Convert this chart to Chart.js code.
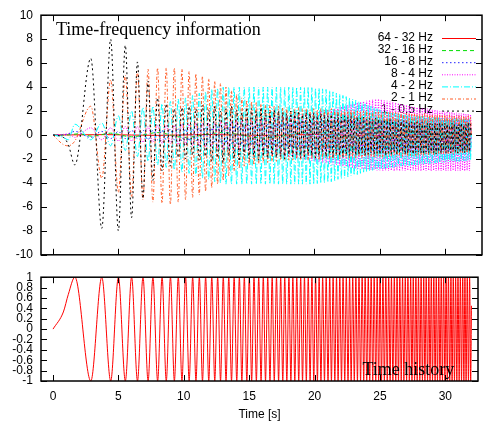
<!DOCTYPE html>
<html>
<head>
<meta charset="utf-8">
<script src="https://cdn.jsdelivr.net/npm/chart.js@4.4.1/dist/chart.umd.min.js"></script>
<style>
  html, body { margin: 0; padding: 0; background: #fff; }
  #wrap { position: relative; width: 484px; height: 423px; }
  .panel { position: absolute; left: 0; }
  #top { top: 0; }
  #bottom { top: 262px; }
</style>
</head>
<body>
<div id="wrap">
  <div class="panel" id="top"><canvas id="freqChart" width="484" height="270"></canvas></div>
  <div class="panel" id="bottom"><canvas id="timeChart" width="484" height="161"></canvas></div>
</div>
<script>
// ---- data ----
const xTicks = [0, 5, 10, 15, 20, 25, 30];
const bandLabels = ["64 - 32 Hz", "32 - 16 Hz", "16 - 8 Hz", "8 - 4 Hz", "4 - 2 Hz", "2 - 1 Hz", "1 - 0.5 Hz"];

// the two highest bands stay near zero
const hz64_32Times = [0, 4, 8, 12, 16, 20, 24, 28, 32];
const hz64_32 = [0, 0.03, -0.03, 0.04, -0.04, 0.05, -0.05, 0.05, 0];
const hz32_16Times = [0, 1, 2, 3, 4.4, 6, 8, 10, 13, 16, 20, 24, 28, 32];
const hz32_16 = [0, 0, 0.1, -0.1, 0.15, -0.15, 0.2, -0.2, 0.2, -0.25, 0.25, -0.3, 0.3, 0];

// time history: start of the first rise, then every crest and trough.
// the other bands are read at these same instants
const chirpTimes = [0, 0.79, 1.17,
  1.67, 2.89, 3.73, 4.41, 5.00, 5.53, 6.01, 6.46, 6.88, 7.27,
  7.64, 8.00, 8.34, 8.66, 8.98, 9.28, 9.58, 9.86, 10.14, 10.41,
  10.68, 10.93, 11.19, 11.43, 11.67, 11.91, 12.14, 12.37, 12.59, 12.81,
  13.02, 13.23, 13.44, 13.65, 13.85, 14.05, 14.25, 14.44, 14.63, 14.82,
  15.01, 15.19, 15.37, 15.55, 15.73, 15.91, 16.08, 16.25, 16.42, 16.59,
  16.76, 16.92, 17.09, 17.25, 17.41, 17.57, 17.72, 17.88, 18.04, 18.19,
  18.34, 18.49, 18.64, 18.79, 18.94, 19.08, 19.23, 19.37, 19.52, 19.66,
  19.80, 19.94, 20.08, 20.22, 20.35, 20.49, 20.62, 20.76, 20.89, 21.03,
  21.16, 21.29, 21.42, 21.55, 21.68, 21.80, 21.93, 22.06, 22.18, 22.31,
  22.43, 22.56, 22.68, 22.80, 22.92, 23.04, 23.16, 23.28, 23.40, 23.52,
  23.64, 23.76, 23.87, 23.99, 24.11, 24.22, 24.33, 24.45, 24.56, 24.68,
  24.79, 24.90, 25.01, 25.12, 25.23, 25.34, 25.45, 25.56, 25.67, 25.78,
  25.88, 25.99, 26.10, 26.21, 26.31, 26.42, 26.52, 26.63, 26.73, 26.83,
  26.94, 27.04, 27.14, 27.25, 27.35, 27.45, 27.55, 27.65, 27.75, 27.85,
  27.95, 28.05, 28.15, 28.25, 28.35, 28.44, 28.54, 28.64, 28.74, 28.83,
  28.93, 29.02, 29.12, 29.22, 29.31, 29.40, 29.50, 29.59, 29.69, 29.78,
  29.87, 29.97, 30.06, 30.15, 30.24, 30.34, 30.43, 30.52, 30.61, 30.70,
  30.79, 30.88, 30.97, 31.06, 31.15, 31.24, 31.33, 31.42, 31.50, 31.59,
  31.68, 31.77, 31.86, 31.94, 32.0];
const chirpValues = [0, 0.33, 0.67,
  1, -1, 1, -1, 1, -1, 1, -1, 1, -1,
  1, -1, 1, -1, 1, -1, 1, -1, 1, -1,
  1, -1, 1, -1, 1, -1, 1, -1, 1, -1,
  1, -1, 1, -1, 1, -1, 1, -1, 1, -1,
  1, -1, 1, -1, 1, -1, 1, -1, 1, -1,
  1, -1, 1, -1, 1, -1, 1, -1, 1, -1,
  1, -1, 1, -1, 1, -1, 1, -1, 1, -1,
  1, -1, 1, -1, 1, -1, 1, -1, 1, -1,
  1, -1, 1, -1, 1, -1, 1, -1, 1, -1,
  1, -1, 1, -1, 1, -1, 1, -1, 1, -1,
  1, -1, 1, -1, 1, -1, 1, -1, 1, -1,
  1, -1, 1, -1, 1, -1, 1, -1, 1, -1,
  1, -1, 1, -1, 1, -1, 1, -1, 1, -1,
  1, -1, 1, -1, 1, -1, 1, -1, 1, -1,
  1, -1, 1, -1, 1, -1, 1, -1, 1, -1,
  1, -1, 1, -1, 1, -1, 1, -1, 1, -1,
  1, -1, 1, -1, 1, -1, 1, -1, 1, -1,
  1, -1, 1, -1, 1, -1, 1, -1, 1, -1,
  1, -1, 1, -1, 0.45];

const hz16_8 = [0, 0, 0.1,
  0.3, -0.2, 0.3, -0.3, 0.3, -0.3, 0.4, -0.3, 0.4, -0.4,
  0.4, -0.4, 0.4, -0.4, 0.5, -0.4, 0.5, -0.5, 0.5, -0.5,
  0.5, -0.5, 0.6, -0.5, 0.6, -0.6, 0.6, -0.6, 0.7, -0.6,
  0.7, -0.7, 0.7, -0.7, 0.8, -0.7, 0.8, -0.8, 0.8, -0.8,
  0.8, -0.8, 0.8, -0.85, 0.85, -0.85, 0.9, -0.9, 0.9, -0.9,
  0.9, -0.95, 0.95, -0.95, 0.95, -1.0, 1.0, -1.0, 1.0, -1.0,
  1.0, -1.05, 1.05, -1.05, 1.05, -1.1, 1.1, -1.1, 1.1, -1.1,
  1.1, -1.15, 1.15, -1.15, 1.15, -1.2, 1.2, -1.2, 1.2, -1.2,
  1.2, -1.25, 1.2, -1.25, 1.25, -1.25, 1.2, -1.3, 1.25, -1.3,
  1.25, -1.3, 1.3, -1.3, 1.25, -1.35, 1.3, -1.3, 1.25, -1.35,
  1.3, -1.35, 1.3, -1.3, 1.25, -1.35, 1.3, -1.35, 1.3, -1.3,
  1.25, -1.35, 1.3, -1.35, 1.3, -1.3, 1.25, -1.35, 1.3, -1.35,
  1.3, -1.3, 1.25, -1.35, 1.3, -1.35, 1.3, -1.3, 1.25, -1.35,
  1.3, -1.35, 1.3, -1.3, 1.25, -1.35, 1.3, -1.35, 1.3, -1.3,
  1.25, -1.35, 1.3, -1.35, 1.3, -1.3, 1.25, -1.35, 1.3, -1.35,
  1.3, -1.3, 1.25, -1.35, 1.3, -1.35, 1.3, -1.3, 1.25, -1.35,
  1.3, -1.35, 1.3, -1.3, 1.25, -1.35, 1.3, -1.35, 1.3, -1.3,
  1.25, -1.35, 1.3, -1.35, 1.3, -1.3, 1.25, -1.35, 1.3, -1.35,
  1.3, -1.3, 1.25, -1.35, 0];

const hz8_4 = [0, 0.05, 0.1,
  -0.2, 0.6, -0.4, 0.6, -0.5, 0.7, -0.5, 0.7, -0.6, 0.7,
  -0.6, 0.8, -0.7, 0.8, -0.7, 0.8, -0.8, 0.9, -0.8, 0.9,
  -0.9, 1.0, -0.9, 1.0, -1.0, 1.0, -1.0, 1.1, -1.1, 1.1,
  -1.2, 1.1, -1.2, 1.2, -1.3, 1.2, -1.3, 1.3, -1.4, 1.3,
  -1.4, 1.35, -1.45, 1.4, -1.5, 1.4, -1.55, 1.45, -1.6, 1.5,
  -1.65, 1.5, -1.7, 1.55, -1.75, 1.6, -1.8, 1.6, -1.85, 1.65,
  -1.9, 1.7, -1.95, 1.7, -2.0, 1.75, -2.05, 1.8, -2.1, 1.85,
  -2.15, 1.9, -2.2, 1.95, -2.25, 2.0, -2.3, 2.05, -2.35, 2.1,
  -2.4, 2.15, -2.45, 2.2, -2.5, 2.3, -2.55, 2.35, -2.6, 2.4,
  -2.65, 2.5, -2.7, 2.55, -2.75, 2.6, -2.8, 2.7, -2.8, 2.75,
  -2.85, 2.8, -2.85, 2.85, -2.9, 2.9, -2.9, 2.95, -2.9, 3.0,
  -2.95, 3.0, -2.95, 2.95, -3.0, 2.9, -2.95, 2.85, -3.0, 2.8,
  -2.95, 2.75, -3.0, 2.7, -2.95, 2.65, -3.0, 2.6, -2.95, 2.55,
  -3.0, 2.5, -2.95, 2.45, -3.0, 2.4, -2.95, 2.35, -3.0, 2.3,
  -2.95, 2.3, -3.0, 2.25, -2.95, 2.2, -3.0, 2.2, -2.95, 2.15,
  -3.0, 2.1, -2.95, 2.1, -3.0, 2.05, -2.95, 2.0, -3.0, 2.0,
  -2.95, 1.95, -3.0, 1.95, -2.95, 1.9, -3.0, 1.9, -2.95, 1.85,
  -3.0, 1.85, -2.95, 1.8, -3.0, 1.8, -2.95, 1.8, -3.0, 1.75,
  -2.95, 1.75, -3.0, 1.7, 0];

const hz4_2 = [0, -0.2, -0.4,
  0.9, -0.4, 1.0, -0.9, 1.6, -1.3, 2.0, -1.8, 2.3, -2.2,
  2.4, -2.5, 2.6, -2.7, 2.8, -2.9, 3.0, -3.1, 3.1, -3.2,
  3.3, -3.4, 3.5, -3.6, 3.6, -3.7, 3.8, -3.9, 3.9, -4.0,
  4.0, -4.1, 4.0, -4.1, 4.0, -4.1, 4.0, -4.1, 4.0, -4.1,
  4.0, -4.1, 4.0, -4.1, 4.0, -4.1, 4.0, -4.1, 4.0, -4.1,
  4.0, -4.1, 4.0, -4.1, 4.0, -4.1, 4.0, -4.1, 4.0, -4.1,
  4.0, -4.1, 4.0, -4.1, 4.0, -4.1, 4.0, -4.1, 4.0, -4.1,
  3.95, -4.1, 3.9, -4.05, 3.9, -4.0, 3.85, -4.0, 3.8, -3.95,
  3.7, -3.9, 3.6, -3.8, 3.5, -3.7, 3.4, -3.65, 3.3, -3.6,
  3.2, -3.5, 3.1, -3.4, 3.0, -3.35, 2.9, -3.3, 2.8, -3.2,
  2.7, -3.1, 2.6, -3.05, 2.5, -3.0, 2.4, -2.95, 2.3, -2.9,
  2.2, -2.9, 2.1, -2.85, 2.0, -2.8, 1.95, -2.75, 1.9, -2.7,
  1.85, -2.7, 1.8, -2.65, 1.8, -2.6, 1.75, -2.6, 1.7, -2.6,
  1.7, -2.55, 1.65, -2.55, 1.65, -2.5, 1.6, -2.5, 1.6, -2.5,
  1.6, -2.45, 1.55, -2.45, 1.55, -2.4, 1.5, -2.4, 1.5, -2.4,
  1.5, -2.35, 1.5, -2.35, 1.45, -2.3, 1.45, -2.3, 1.45, -2.3,
  1.4, -2.3, 1.4, -2.25, 1.4, -2.25, 1.4, -2.2, 1.4, -2.2,
  1.4, -2.2, 1.35, -2.2, 1.35, -2.15, 1.35, -2.15, 1.35, -2.15,
  1.3, -2.1, 1.3, -2.1, 0];

const hz2_1 = [0, -0.8, -0.9,
  -0.5, 2.4, -3.6, 4.6, -4.8, 5.0, -5.2, 5.3, -5.4, 5.5,
  -5.6, 5.6, -5.7, 5.6, -5.8, 5.6, -5.6, 5.5, -5.4, 5.3,
  -5.2, 5.1, -5.0, 4.9, -4.7, 4.7, -4.4, 4.5, -4.1, 4.3,
  -3.8, 4.0, -3.4, 3.7, -3.0, 3.4, -2.8, 3.1, -2.6, 2.9,
  -2.5, 2.8, -2.5, 2.7, -2.4, 2.6, -2.3, 2.5, -2.3, 2.5,
  -2.2, 2.4, -2.2, 2.4, -2.1, 2.3, -2.1, 2.3, -2.1, 2.2,
  -2.1, 2.2, -2.0, 2.3, -2.1, 2.2, -2.0, 2.2, -2.1, 2.1,
  -2.0, 2.2, -2.0, 2.1, -2.1, 2.2, -2.0, 2.1, -1.9, 2.1,
  -2.0, 2.2, -2.0, 2.1, -1.9, 2.1, -2.0, 2.0, -1.9, 2.1,
  -1.9, 2.0, -2.0, 2.1, -1.9, 2.0, -1.9, 2.0, -1.8, 2.0,
  -1.9, 2.0, -1.8, 2.1, -1.9, 1.9, -1.8, 2.0, -1.9, 1.9,
  -1.8, 2.0, -1.8, 1.9, -1.9, 1.9, -1.8, 1.9, -1.8, 1.9,
  -1.8, 1.9, -1.7, 1.9, -1.8, 1.8, -1.7, 1.9, -1.8, 1.8,
  -1.7, 1.8, -1.8, 1.8, -1.7, 1.8, -1.7, 1.8, -1.7, 1.7,
  -1.7, 1.8, -1.7, 1.7, -1.7, 1.8, -1.6, 1.7, -1.7, 1.7,
  -1.6, 1.7, -1.7, 1.7, -1.6, 1.7, -1.6, 1.7, -1.6, 1.6,
  -1.6, 1.7, -1.6, 1.6, -1.6, 1.7, -1.5, 1.6, -1.6, 1.6,
  -1.5, 1.6, -1.6, 1.6, -1.5, 1.6, -1.5, 1.6, -1.5, 1.5,
  -1.5, 1.6, -1.5, 1.5, 0];

const hz1_05 = [0, -0.2, -0.8,
  -2.5, 6.4, -7.8, 8.0, -8.0, 7.5, -6.9, 6.1, -5.3, 4.5,
  -3.8, 3.1, -3.0, 2.6, -2.6, 2.2, -1.9, 2.3, -2.0, 2.4,
  -1.7, 2.2, -2.1, 2.5, -1.8, 2.1, -2.2, 2.4, -1.9, 2.0,
  -2.3, 2.2, -1.8, 2.4, -2.0, 2.1, -2.2, 1.9, -1.7, 2.3,
  -2.0, 2.2, -1.9, 2.0, -2.1, 2.3, -1.8, 2.1, -2.0, 1.9,
  -1.7, 2.1, -1.9, 2.0, -1.8, 1.9, -2.0, 1.8, -1.6, 2.0,
  -1.8, 1.9, -1.7, 2.0, -1.9, 1.7, -1.8, 1.9, -1.6, 1.8,
  -1.7, 1.8, -1.9, 1.6, -1.7, 1.8, -1.5, 1.7, -1.8, 1.6,
  -1.6, 1.7, -1.8, 1.5, -1.6, 1.7, -1.7, 1.5, -1.8, 1.6,
  -1.6, 1.5, -1.7, 1.6, -1.5, 1.4, -1.7, 1.5, -1.6, 1.4,
  -1.5, 1.5, -1.7, 1.3, -1.6, 1.4, -1.5, 1.3, -1.6, 1.4,
  -1.5, 1.3, -1.6, 1.2, -1.5, 1.3, -1.7, 1.2, -1.5, 1.3,
  -1.6, 1.2, -1.4, 1.1, -1.6, 1.2, -1.5, 1.1, -1.4, 1.2,
  -1.6, 1.1, -1.5, 1.0, -1.4, 1.1, -1.6, 1.0, -1.5, 1.1,
  -1.4, 1.0, -1.5, 1.1, -1.6, 0.9, -1.4, 1.0, -1.5, 1.0,
  -1.4, 0.9, -1.5, 1.0, -1.6, 0.9, -1.4, 1.0, -1.5, 0.9,
  -1.3, 1.0, -1.5, 0.9, -1.4, 0.8, -1.5, 1.0, -1.3, 0.9,
  -1.4, 0.8, -1.5, 0.9, -1.3, 1.0, -1.4, 0.8, -1.5, 0.9,
  -1.3, 1.0, -1.4, 0.9, 0];

// ---- styles ----
const bandColors = ["#ff0000", "#00dd00", "#2222ff", "#ff00ff", "#00ffff", "#ff5c26", "#000000"];
const bandDashes = [[], [4, 3], [1.5, 2.5], [1, 1.5], [6, 2, 1, 2], [3, 2, 1, 2], [2, 3]];

const toPoints = (xs, ys) => xs.map((x, i) => ({ x: x, y: ys[i] }));
const bandSeries = [
  toPoints(hz64_32Times, hz64_32),
  toPoints(hz32_16Times, hz32_16),
  toPoints(chirpTimes, hz16_8),
  toPoints(chirpTimes, hz8_4),
  toPoints(chirpTimes, hz4_2),
  toPoints(chirpTimes, hz2_1),
  toPoints(chirpTimes, hz1_05)
];

Chart.defaults.font.family = "'Liberation Sans', Arial, sans-serif";
Chart.defaults.font.size = 12;
Chart.defaults.color = "#000";

// frame with inward tick marks on all four sides, gnuplot style
const frameTicks = {
  id: "frameTicks",
  afterDraw(chart) {
    const { ctx, chartArea: a, scales } = chart;
    ctx.save();
    ctx.strokeStyle = "#000";
    ctx.lineWidth = 1;
    ctx.beginPath();
    xTicks.forEach(v => {
      const px = Math.round(scales.x.getPixelForValue(v)) + 0.5;
      ctx.moveTo(px, a.bottom); ctx.lineTo(px, a.bottom - 6);
      ctx.moveTo(px, a.top); ctx.lineTo(px, a.top + 6);
    });
    scales.y.ticks.forEach(t => {
      const py = Math.round(scales.y.getPixelForValue(t.value)) + 0.5;
      ctx.moveTo(a.left, py); ctx.lineTo(a.left + 6, py);
      ctx.moveTo(a.right, py); ctx.lineTo(a.right - 6, py);
    });
    ctx.stroke();
    ctx.lineWidth = 1.5;
    ctx.strokeRect(a.left, a.top, a.right - a.left, a.bottom - a.top);
    ctx.restore();
  }
};

// key in the top right corner: text right aligned, sample line after it
const bandLegend = {
  id: "bandLegend",
  beforeDatasetsDraw(chart) {
    const ctx = chart.ctx;
    ctx.save();
    ctx.font = "12px 'Liberation Sans', Arial, sans-serif";
    ctx.textAlign = "right";
    ctx.textBaseline = "middle";
    chart.data.datasets.forEach((ds, i) => {
      const y = 37.5 + i * 12.1;
      ctx.fillStyle = "#000";
      ctx.fillText(ds.label, 433, y);
      ctx.strokeStyle = ds.borderColor;
      ctx.lineWidth = 1;
      ctx.setLineDash(ds.borderDash);
      ctx.beginPath();
      ctx.moveTo(442, y + 1);
      ctx.lineTo(476, y + 1);
      ctx.stroke();
    });
    ctx.restore();
  }
};

const panelText = {
  id: "panelText",
  afterDatasetsDraw(chart, args, opts) {
    const ctx = chart.ctx, a = chart.chartArea;
    ctx.save();
    ctx.font = "18px 'Liberation Serif', 'Times New Roman', serif";
    ctx.fillStyle = "#000";
    ctx.textBaseline = "alphabetic";
    ctx.fillText(opts.text, a.left + opts.dx, a.top + opts.dy);
    ctx.restore();
  }
};

const yAxisBase = {
  grid: { display: false, drawTicks: false },
  border: { display: false },
  afterFit: s => { s.width = 41; }
};

new Chart(document.getElementById("freqChart"), {
  type: "line",
  data: {
    datasets: bandSeries.map((pts, i) => ({
      label: bandLabels[i],
      data: pts,
      borderColor: bandColors[i],
      borderDash: bandDashes[i],
      borderWidth: 1,
      order: 7 - i,
      fill: false
    }))
  },
  options: {
    responsive: false,
    animation: false,
    events: [],
    parsing: false,
    layout: { padding: { left: 0, top: 14, right: 2, bottom: 11 } },
    elements: { point: { radius: 0 }, line: { cubicInterpolationMode: "monotone" } },
    scales: {
      x: { type: "linear", display: false, min: -0.92, max: 32.82 },
      y: Object.assign({
        min: -10, max: 10,
        ticks: { stepSize: 2, padding: 8, autoSkip: false }
      }, yAxisBase)
    },
    plugins: {
      legend: { display: false },
      tooltip: { enabled: false },
      panelText: { text: "Time-frequency information", dx: 15, dy: 20 }
    }
  },
  plugins: [frameTicks, bandLegend, panelText]
});

new Chart(document.getElementById("timeChart"), {
  type: "line",
  data: {
    datasets: [{
      label: "Time history",
      data: toPoints(chirpTimes, chirpValues),
      borderColor: "#ff0000",
      borderWidth: 1,
      fill: false
    }]
  },
  options: {
    responsive: false,
    animation: false,
    events: [],
    parsing: false,
    layout: { padding: { left: 0, top: 12, right: 6, bottom: 0 } },
    elements: { point: { radius: 0 }, line: { cubicInterpolationMode: "monotone" } },
    scales: {
      x: {
        type: "linear", min: -0.92, max: 32.5,
        afterBuildTicks: s => { s.ticks = xTicks.map(v => ({ value: v })); },
        ticks: { padding: 8, autoSkip: false, maxRotation: 0, callback: v => String(v) },
        grid: { display: false, drawTicks: false },
        border: { display: false },
        title: { display: true, text: "Time [s]", padding: { top: 0, bottom: 1 } },
        afterFit: s => { s.height = 42; }
      },
      y: Object.assign({
        min: -1, max: 1,
        ticks: { stepSize: 0.2, padding: 8, autoSkip: false, callback: v => String(Math.round(v * 10) / 10) }
      }, yAxisBase)
    },
    plugins: {
      legend: { display: false },
      tooltip: { enabled: false },
      panelText: { text: "Time history", dx: 321.5, dy: 97.5 }
    }
  },
  plugins: [frameTicks, panelText]
});
</script>
</body>
</html>
